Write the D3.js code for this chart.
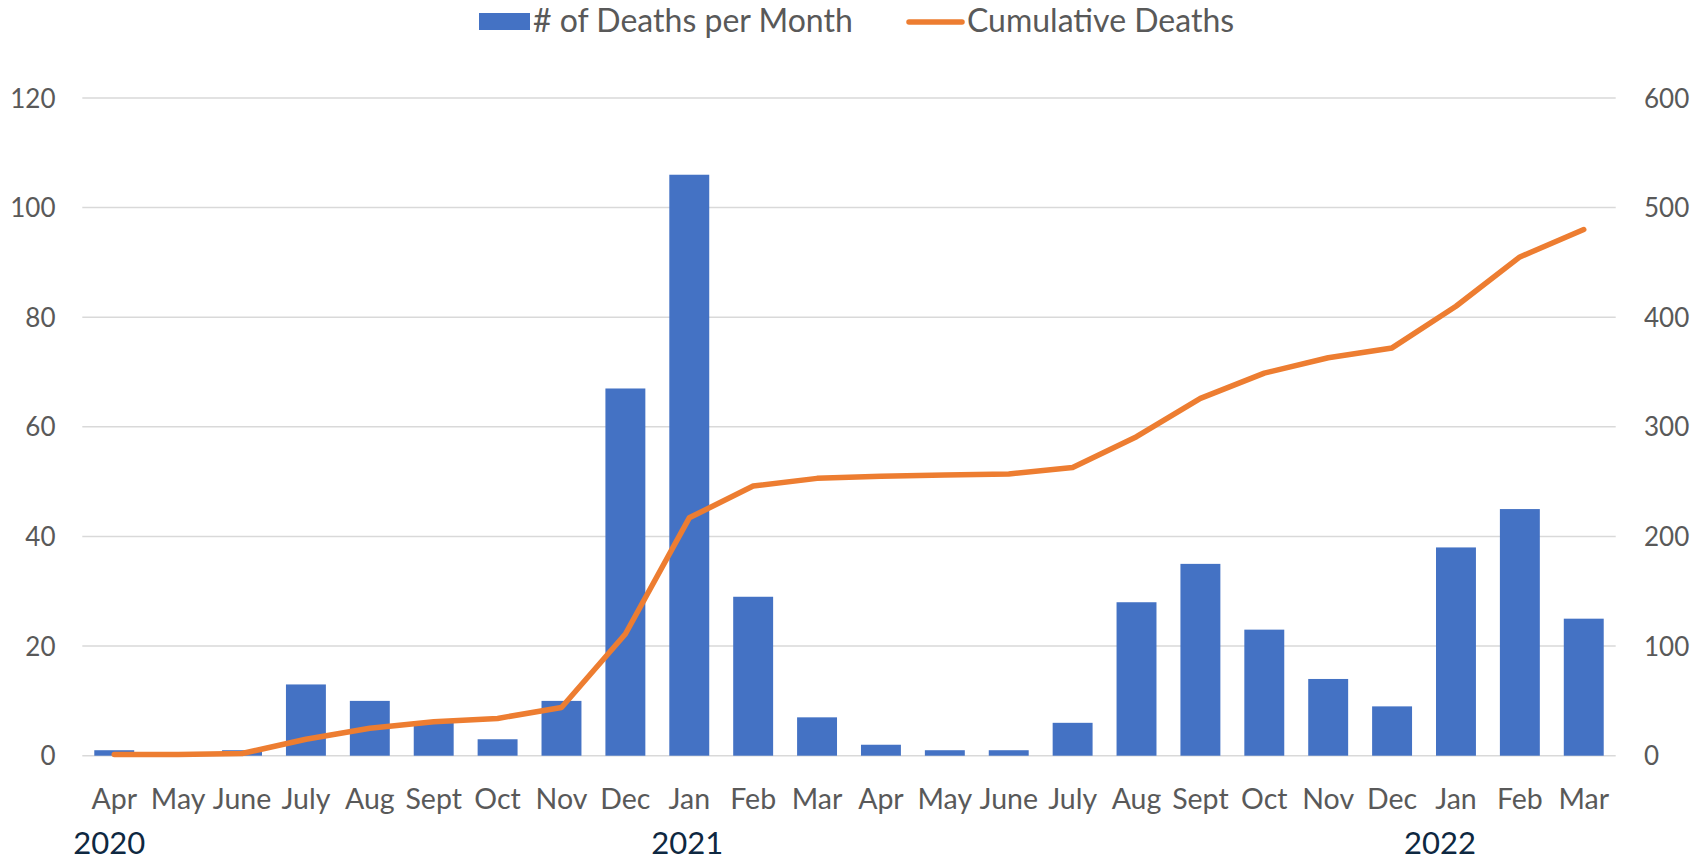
<!DOCTYPE html>
<html><head><meta charset="utf-8">
<script src="https://cdn.jsdelivr.net/npm/d3@7"></script>
<style>
html,body{margin:0;padding:0;background:#fff;}
svg{display:block;font-family:Lato,"Open Sans",sans-serif;}
</style></head>
<body>
<svg id="chart" width="1706" height="862"></svg>
<script>
// ---- data ----
const months = ["Apr","May","June","July","Aug","Sept","Oct","Nov","Dec","Jan","Feb","Mar",
                "Apr","May","June","July","Aug","Sept","Oct","Nov","Dec","Jan","Feb","Mar"];
const deathsPerMonth = [1,0,1,13,10,6,3,10,67,106,29,7,2,1,1,6,28,35,23,14,9,38,45,25];
const cumulativeDeaths = [1,1,2,15,25,31,34,44,111,217,246,253,255,256,257,263,291,326,349,363,372,410,455,480];
const leftTicks = [0,20,40,60,80,100,120];
const rightTicks = [0,100,200,300,400,500,600];
const yearLabels = [{year:"2020", index:0},{year:"2021", index:9},{year:"2022", index:21}];
const seriesNames = ["# of Deaths per Month","Cumulative Deaths"];

// ---- layout ----
const plot = {left: 82.3, right: 1615.7, top: 98, bottom: 755.7};
const barColor = "#4472C4", lineColor = "#ED7D31", gridColor = "#d9d9d9", textColor = "#595959";

const svg = d3.select("#chart");
const keys = months.map((m,i)=>i);
const x = d3.scaleBand().domain(keys).range([plot.left, plot.right]).paddingInner(0.375).paddingOuter(0.1875);
const xc = d3.scaleBand().domain(keys).range([plot.left, plot.right]);
const yL = d3.scaleLinear().domain([0,120]).range([plot.bottom, plot.top]);
const yR = d3.scaleLinear().domain([0,600]).range([plot.bottom, plot.top]);

// gridlines
svg.append("g").selectAll("line").data(leftTicks).join("line")
  .attr("x1", plot.left).attr("x2", plot.right)
  .attr("y1", d=>yL(d)).attr("y2", d=>yL(d))
  .attr("stroke", gridColor).attr("stroke-width", 1.5);

// left axis
const leftAxis = d3.axisLeft(yL).tickValues(leftTicks).tickSize(0).tickPadding(0);
const gL = svg.append("g").attr("transform", `translate(${55.5},0)`).call(leftAxis);
gL.select(".domain").remove();
gL.selectAll("text").attr("fill", textColor).style("font-size","26px").style("font-family","Lato").attr("dy","0.35em");

// right axis
const rightAxis = d3.axisRight(yR).tickValues(rightTicks).tickSize(0).tickPadding(0);
const gR = svg.append("g").attr("transform", `translate(${1644},0)`).call(rightAxis);
gR.select(".domain").remove();
gR.selectAll("text").attr("fill", textColor).style("font-size","26px").style("font-family","Lato").attr("dy","0.35em");

// bars
svg.append("g").selectAll("rect").data(deathsPerMonth).join("rect")
  .attr("x", (d,i)=>x(i)).attr("width", x.bandwidth())
  .attr("y", d=>yL(d)).attr("height", d=>plot.bottom - yL(d))
  .attr("fill", barColor);

// line
const line = d3.line().x((d,i)=>xc(i)+xc.bandwidth()/2).y(d=>yR(d));
svg.append("path").datum(cumulativeDeaths)
  .attr("d", line).attr("fill","none").attr("stroke", lineColor)
  .attr("stroke-width", 5.5).attr("stroke-linecap","round").attr("stroke-linejoin","round");

// x axis labels
const xAxis = d3.axisBottom(xc).tickSize(0).tickPadding(0).tickFormat(i=>months[i]);
const gX = svg.append("g").attr("transform", `translate(0,${799})`).call(xAxis);
gX.select(".domain").remove();
gX.selectAll("text").attr("fill", textColor).style("font-size","28.5px").style("font-family","Lato").attr("dy","0.35em");

// year labels
const yearOffsets = [-5, -2, -16];
svg.append("g").selectAll("text").data(yearLabels).join("text")
  .attr("x", (d,k)=>xc(d.index)+xc.bandwidth()/2 + yearOffsets[k])
  .attr("y", 843).attr("dy","0.35em")
  .attr("text-anchor","middle")
  .attr("fill", "#0e2841").style("font-size","31px").style("font-family","Lato")
  .text(d=>d.year);

// legend
const lg = svg.append("g");
lg.append("rect").attr("x", 479).attr("y", 13).attr("width", 51).attr("height", 17).attr("fill", barColor);
lg.append("text").attr("x", 533).attr("y", 21).attr("dy","0.35em").attr("fill", textColor)
  .style("font-size","32px").text(seriesNames[0]);
lg.append("line").attr("x1", 909).attr("x2", 962).attr("y1", 22).attr("y2", 22)
  .attr("stroke", lineColor).attr("stroke-width", 5.5).attr("stroke-linecap","round");
lg.append("text").attr("x", 967).attr("y", 21).attr("dy","0.35em").attr("fill", textColor)
  .style("font-size","32px").text(seriesNames[1]);
</script>
</body></html>
